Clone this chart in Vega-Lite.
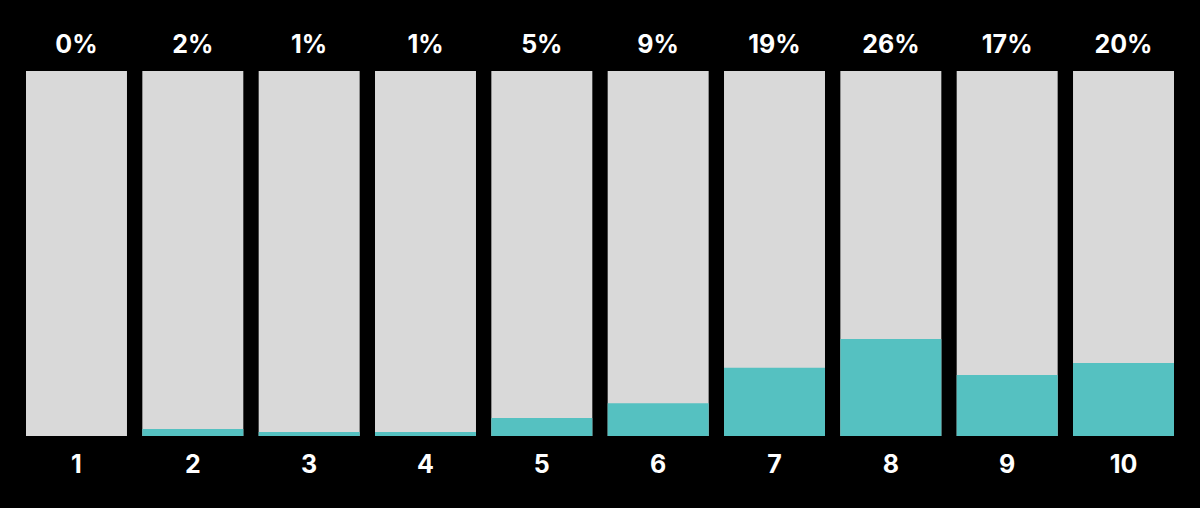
{
  "$schema": "https://vega.github.io/schema/vega-lite/v6.json",
  "width": 1148,
  "height": 365,
  "autosize": {"type": "none"},
  "padding": {"left": 26, "top": 71, "right": 26, "bottom": 72},
  "background": "#000000",
  "config": {"view": {"stroke": null}},
  "data": {
    "values": [
      {"cat": "1", "value": 0, "label": "0%"},
      {"cat": "2", "value": 1.9, "label": "2%"},
      {"cat": "3", "value": 1.1, "label": "1%"},
      {"cat": "4", "value": 1.1, "label": "1%"},
      {"cat": "5", "value": 4.9, "label": "5%"},
      {"cat": "6", "value": 9, "label": "9%"},
      {"cat": "7", "value": 18.7, "label": "19%"},
      {"cat": "8", "value": 26.6, "label": "26%"},
      {"cat": "9", "value": 16.7, "label": "17%"},
      {"cat": "10", "value": 20, "label": "20%"}
    ]
  },
  "encoding": {
    "x": {
      "field": "cat",
      "type": "ordinal",
      "sort": null,
      "scale": {"paddingInner": 0.132, "paddingOuter": 0},
      "axis": null
    }
  },
  "layer": [
    {
      "mark": {"type": "bar", "color": "#d9d9d9"},
      "encoding": {
        "y": {"datum": 100, "type": "quantitative", "scale": {"domain": [0, 100]}, "axis": null}
      }
    },
    {
      "mark": {"type": "bar", "color": "#55c1c1"},
      "encoding": {
        "y": {"field": "value", "type": "quantitative", "scale": {"domain": [0, 100]}, "axis": null}
      }
    },
    {
      "mark": {"type": "text", "color": "#ffffff", "font": "Inter", "fontWeight": "bold", "fontSize": 25, "baseline": "alphabetic", "dy": -18},
      "encoding": {
        "y": {"datum": 100, "type": "quantitative"},
        "text": {"field": "label"}
      }
    },
    {
      "mark": {"type": "text", "color": "#ffffff", "font": "Inter", "fontWeight": "bold", "fontSize": 25, "baseline": "alphabetic", "dy": 37},
      "encoding": {
        "y": {"datum": 0, "type": "quantitative"},
        "text": {"field": "cat"}
      }
    }
  ]
}
